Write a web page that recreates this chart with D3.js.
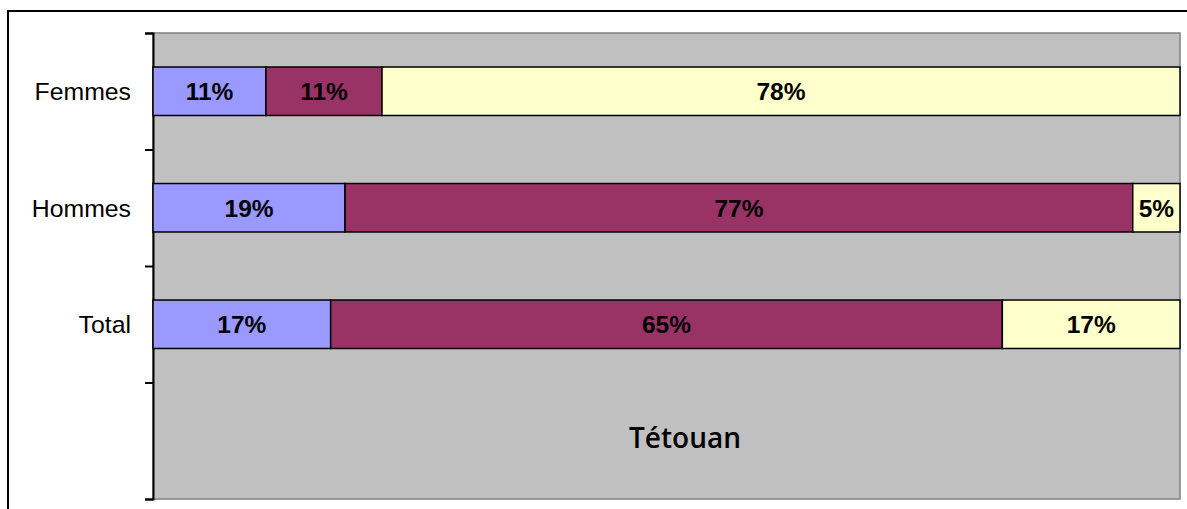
<!DOCTYPE html>
<html>
<head>
<meta charset="utf-8">
<script src="https://cdn.jsdelivr.net/npm/d3@7"></script>
<style>
  body { margin: 0; background: #fff; }
  svg { display: block; }
</style>
</head>
<body>
<svg id="chart" width="1187" height="509"></svg>
<script>
// data (shares in %, each row sums to 100)
const categories = ["Femmes", "Hommes", "Total", ""];
const seriesNames = ["s1", "s2", "s3"];
const femmes = [11.0, 11.3, 77.7];
const hommes = [18.7, 76.7, 4.6];
const total = [17.3, 65.4, 17.3];
const seriesColors = ["#9999FF", "#993366", "#FFFFCC"];
const title = "Tétouan";

const rows = [
  { cat: "Femmes", values: femmes },
  { cat: "Hommes", values: hommes },
  { cat: "Total", values: total }
];

const width = 1187;
const height = 509;
const plot = { left: 153, right: 1180, top: 33, bottom: 499 };

const svg = d3.select("#chart");

// outer chart frame
svg.append("path")
  .attr("d", `M8,${height + 5} L8,11 L${width + 5},11`)
  .attr("fill", "none")
  .attr("stroke", "#000")
  .attr("stroke-width", 2);

// plot area
svg.append("rect")
  .attr("x", plot.left)
  .attr("y", plot.top)
  .attr("width", plot.right - plot.left)
  .attr("height", plot.bottom - plot.top)
  .attr("fill", "#C0C0C0")
  .attr("stroke", "#808080")
  .attr("stroke-width", 1.5);

const x = d3.scaleLinear().domain([0, 100]).range([plot.left, plot.right]);

const y = d3.scaleBand()
  .domain(categories)
  .range([plot.top, plot.bottom])
  .paddingInner(0.584)
  .paddingOuter(0.292);

// tick positions sit on band boundaries
const yTicks = d3.scaleLinear().domain([0, categories.length]).range([plot.top, plot.bottom]);

svg.append("g")
  .attr("transform", `translate(${plot.left},0)`)
  .call(d3.axisLeft(yTicks).ticks(categories.length).tickSize(8).tickFormat(""))
  .call((g) => g.select(".domain").attr("stroke-width", 2))
  .call((g) => g.selectAll(".tick line").attr("stroke-width", 2));

// category labels
svg.append("g")
  .selectAll("text")
  .data(categories.filter((c) => c !== ""))
  .join("text")
  .attr("x", 131)
  .attr("y", (d) => y(d) + y.bandwidth() / 2)
  .attr("dy", "0.36em")
  .attr("text-anchor", "end")
  .attr("font-family", "Liberation Sans, Arial, sans-serif")
  .attr("font-size", "24.8px")
  .attr("fill", "#000")
  .text((d) => d);

// stacked bars
const segments = [];
rows.forEach((r) => {
  let acc = 0;
  r.values.forEach((v, i) => {
    segments.push({ cat: r.cat, key: seriesNames[i], i: i, x0: acc, x1: acc + v, v: v });
    acc += v;
  });
});

const bars = svg.append("g");

bars.selectAll("rect")
  .data(segments)
  .join("rect")
  .attr("x", (d) => x(d.x0))
  .attr("y", (d) => y(d.cat))
  .attr("width", (d) => x(d.x1) - x(d.x0))
  .attr("height", y.bandwidth())
  .attr("fill", (d) => seriesColors[d.i])
  .attr("stroke", "#000")
  .attr("stroke-width", 1.5);

bars.selectAll("text")
  .data(segments)
  .join("text")
  .attr("x", (d) => (x(d.x0) + x(d.x1)) / 2)
  .attr("y", (d) => y(d.cat) + y.bandwidth() / 2)
  .attr("dy", "0.36em")
  .attr("text-anchor", "middle")
  .attr("font-family", "Liberation Sans, Arial, sans-serif")
  .attr("font-size", "24.5px")
  .attr("font-weight", "bold")
  .attr("fill", "#000")
  .text((d) => Math.round(d.v) + "%");

// title inside the plot
svg.append("text")
  .attr("x", 685)
  .attr("y", 448)
  .attr("text-anchor", "middle")
  .attr("font-family", "Open Sans, sans-serif")
  .attr("font-size", "28px")
  .attr("font-weight", 600)
  .attr("fill", "#000")
  .text(title);
</script>
</body>
</html>
